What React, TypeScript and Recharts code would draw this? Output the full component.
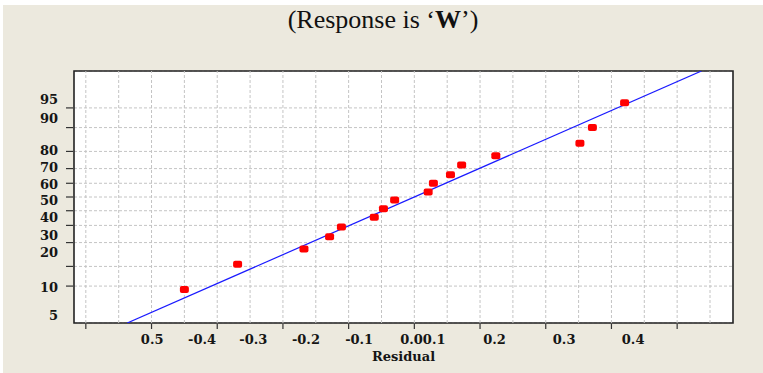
import React from 'react';
import { ComposedChart, Scatter, XAxis, YAxis, CartesianGrid, ReferenceLine, ReferenceArea } from 'recharts';

// Residuals (x) and normal-probability percents (y)
const residuals = [-0.350, -0.269, -0.168, -0.129, -0.111, -0.061, -0.047, -0.030, 0.021, 0.029, 0.055, 0.072, 0.124, 0.252, 0.271, 0.320];
const percents = [4.4, 10.7, 16.9, 23.2, 29.0, 35.4, 41.5, 47.8, 53.7, 60.0, 66.0, 72.2, 77.7, 84.0, 90.0, 95.9];

// Fitted normal line end points
const fitResiduals = [-0.437, 0.437];
const fitPercents = [1, 99];

// Axes
const xDomain = [-0.518, 0.485];
const pDomain = [1, 99];
const xTickValues = [-0.5, -0.4, -0.3, -0.2, -0.1, 0, 0.1, 0.2, 0.3, 0.4];
const xGridValues = [-0.5, -0.45, -0.4, -0.35, -0.3, -0.25, -0.2, -0.15, -0.1, -0.05, 0, 0.05, 0.1, 0.15, 0.2, 0.25, 0.3, 0.35, 0.4, 0.45];
const xLabelValues = [-0.399, -0.323, -0.245, -0.165, -0.084, 0.013, 0.122, 0.228, 0.333];
const xLabelTexts = ['0.5', '-0.4', '-0.3', '-0.2', '-0.1', '0.00.1', '0.2', '0.3', '0.4'];
const yTickPercents = [5, 10, 20, 30, 40, 50, 60, 70, 80, 90, 95];
const yLabelPercents = [96.47, 92.76, 80.7, 71.0, 59.5, 47.8, 35.6, 24.2, 15.5, 4.84, 1.47];
const yLabelTexts = ['95', '90', '80', '70', '60', '50', '40', '30', '20', '10', '5'];

// Inverse normal CDF (probability scale transform)
function probit(pct: number): number {
  const p = pct / 100;
  const a = [-3.969683028665376e1, 2.209460984245205e2, -2.759285104469687e2, 1.38357751867269e2, -3.066479806614716e1, 2.506628277459239];
  const b = [-5.447609879822406e1, 1.615858368580409e2, -1.556989798598866e2, 6.680131188771972e1, -1.328068155288572e1];
  const c = [-7.784894002430293e-3, -3.223964580411365e-1, -2.400758277161838, -2.549732539343734, 4.374664141464968, 2.938163982698783];
  const d = [7.784695709041462e-3, 3.224671290700398e-1, 2.445134137142996, 3.754408661907416];
  const pl = 0.02425;
  if (p < pl) {
    const q = Math.sqrt(-2 * Math.log(p));
    return (((((c[0] * q + c[1]) * q + c[2]) * q + c[3]) * q + c[4]) * q + c[5]) / ((((d[0] * q + d[1]) * q + d[2]) * q + d[3]) * q + 1);
  }
  if (p > 1 - pl) {
    const q = Math.sqrt(-2 * Math.log(1 - p));
    return -(((((c[0] * q + c[1]) * q + c[2]) * q + c[3]) * q + c[4]) * q + c[5]) / ((((d[0] * q + d[1]) * q + d[2]) * q + d[3]) * q + 1);
  }
  const q = p - 0.5;
  const r = q * q;
  return ((((((a[0] * r + a[1]) * r + a[2]) * r + a[3]) * r + a[4]) * r + a[5]) * q) / (((((b[0] * r + b[1]) * r + b[2]) * r + b[3]) * r + b[4]) * r + 1);
}

const points = residuals.map((x, i) => ({ x, z: probit(percents[i]) }));
const fitLine = fitResiduals.map((x, i) => ({ x, z: probit(fitPercents[i]) }));
const zDomain = [probit(pDomain[0]), probit(pDomain[1])];
const yTickZ = yTickPercents.map(probit);
const yLabelZ = yLabelPercents.map(probit);

const lookup = (vals: number[], texts: string[]) => (v: number) => {
  let best = 0;
  for (let i = 1; i < vals.length; i++) if (Math.abs(vals[i] - v) < Math.abs(vals[best] - v)) best = i;
  return texts[best];
};
const xLabelOf = lookup(xLabelValues, xLabelTexts);

const labelFont = { fill: '#151515', fontSize: 13, fontFamily: 'DejaVu Serif', fontWeight: 'bold' as const };

const XLabelTick = (props: any) => {
  const { x, y, payload } = props;
  return (
    <text x={x} y={y} dy="0.71em" textAnchor="middle" {...labelFont}>
      {xLabelOf(payload.value)}
    </text>
  );
};

const EmptyTick = () => <g />;

const Marker = (props: any) => {
  const { cx, cy } = props;
  if (cx == null || cy == null) return null;
  return <rect x={cx - 4.5} y={cy - 3.5} width={9} height={7} rx={2} ry={2} fill="#ff0000" />;
};

const NoShape = () => null;

export default function App() {
  return (
    <div style={{ position: 'fixed', left: 0, top: 0, width: 763, height: 373, background: '#ffffff', overflow: 'hidden' }}>
      <div style={{ position: 'absolute', left: 3, top: 5, right: 0, bottom: 0, background: '#ECE9DE' }} />
      <svg style={{ position: 'absolute', left: 0, top: 0 }} width={763} height={45}>
        <text x={383} y={28} textAnchor="middle" fontFamily="Liberation Serif" fontSize={26} fill="#111">
          (Response is ‘<tspan fontWeight="bold">W</tspan>’)
        </text>
      </svg>
      <div style={{ position: 'absolute', left: 0, top: 0 }}>
        <ComposedChart width={763} height={373} margin={{ top: 71, right: 30, bottom: 48, left: 72 }}>
          <CartesianGrid xAxisId="main" yAxisId="main" vertical={false} fill="#ffffff" fillOpacity={1} stroke="#c4c4c4" strokeDasharray="3 2" />
          <XAxis
            xAxisId="main"
            type="number"
            dataKey="x"
            domain={xDomain}
            allowDataOverflow
            ticks={xTickValues}
            interval={0}
            height={1}
            tickSize={5}
            tickLine={{ stroke: '#333', strokeWidth: 1.2 }}
            axisLine={false}
            tick={EmptyTick}
          />
          <XAxis
            xAxisId="lab"
            type="number"
            dataKey="x"
            domain={xDomain}
            allowDataOverflow
            ticks={xLabelValues}
            interval={0}
            height={1}
            tickSize={0}
            tickMargin={12}
            tickLine={false}
            axisLine={false}
            tick={XLabelTick}
            label={{ value: 'Residual', position: 'bottom', offset: 28, style: { ...labelFont, fontSize: 13 } }}
          />
          <YAxis
            yAxisId="main"
            type="number"
            dataKey="z"
            domain={zDomain}
            allowDataOverflow
            ticks={yTickZ}
            interval={0}
            width={1}
            tickSize={7}
            tickLine={{ stroke: '#333', strokeWidth: 1.2 }}
            axisLine={false}
            tick={EmptyTick}
          />
          <YAxis
            yAxisId="lab"
            type="number"
            dataKey="z"
            domain={zDomain}
            allowDataOverflow
            ticks={yLabelZ}
            interval={0}
            width={1}
            tickSize={0}
            tickMargin={16}
            tickLine={false}
            axisLine={false}
            tick={labelFont}
            tickFormatter={lookup(yLabelZ, yLabelTexts)}
          />
          {xGridValues.map((v) => (
            <ReferenceLine key={v} xAxisId="main" yAxisId="main" x={v} stroke="#c4c4c4" strokeDasharray="3 2" />
          ))}
          <ReferenceArea xAxisId="main" yAxisId="main" x1={xDomain[0]} x2={xDomain[1]} y1={zDomain[0]} y2={zDomain[1]} fill="none" stroke="#222" strokeWidth={1.6} />
          <Scatter xAxisId="lab" yAxisId="lab" data={fitLine} dataKey="z" shape={NoShape} isAnimationActive={false} />
          <Scatter xAxisId="main" yAxisId="main" data={fitLine} dataKey="z" line={{ stroke: '#1a1aff', strokeWidth: 1.2 }} lineType="joint" shape={NoShape} isAnimationActive={false} />
          <Scatter xAxisId="main" yAxisId="main" data={points} dataKey="z" shape={Marker} isAnimationActive={false} />
        </ComposedChart>
      </div>
    </div>
  );
}
